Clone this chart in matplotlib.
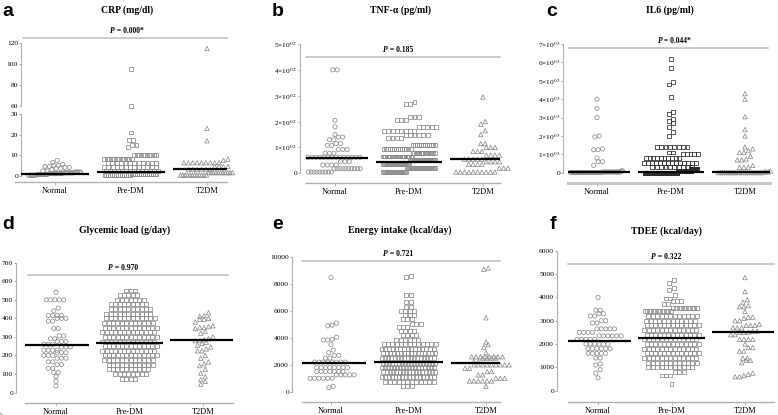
import numpy as np
import matplotlib.pyplot as plt
from matplotlib.lines import Line2D

plt.rcParams['mathtext.fontset'] = 'stix'
plt.rcParams['font.family'] = ['Liberation Serif', 'DejaVu Serif']

groups = ['Normal', 'Pre-DM', 'T2DM']

# each group is given as value levels (rows of markers) and how many markers sit on each row
# a  CRP (mg/dl)
crp_lv = [[0.2, 0.6, 1.0, 1.4, 1.8, 2.3, 3.0, 3.5, 4.0, 4.5, 5.0, 5.5, 6.5, 7.5],
          [0.2, 1.0, 2.3, 4.3, 6.3, 8.3, 10.0, 14, 15, 17.5, 21, 60, 95],
          [0.3, 1.5, 3.0, 4.5, 6.3, 7.5, 8.0, 17, 23, 115]]
crp_n = [[6, 8, 10, 8, 5, 2, 1, 2, 2, 2, 2, 1, 1, 1],
         [14, 14, 14, 13, 12, 12, 10, 1, 2, 2, 1, 1, 1],
         [12, 11, 6, 4, 9, 1, 1, 1, 1, 1]]
crp_med = [1.0, 1.6, 3.5]

# b  TNF-alpha (pg/ml)
tnf_lv = [[5, 18, 32, 45, 62, 78, 92, 108, 115, 130, 140, 150, 180, 205, 400],
          [5, 20, 35, 50, 65, 80, 95, 110, 135, 150, 165, 178, 205, 218, 268, 275],
          [5, 20, 35, 45, 55, 70, 85, 100, 115, 150, 165, 190, 200, 295]]
tnf_n = [[9, 10, 4, 3, 14, 3, 3, 2, 2, 2, 2, 1, 1, 1, 2],
         [24, 28, 28, 28, 24, 18, 14, 12, 4, 6, 8, 5, 3, 3, 2, 1],
         [10, 3, 4, 4, 5, 4, 3, 3, 2, 1, 1, 1, 1, 1]]
tnf_med = [60, 45, 55]

# c  IL6 (pg/ml)
il6_lv = [[10, 40, 100, 400, 600, 800, 1250, 1300, 1950, 2000, 3000, 3500, 4000],
          [10, 80, 180, 300, 550, 800, 1000, 1100, 1400, 2000, 2200, 2500, 2700,
           2800, 2900, 3200, 3300, 4100, 4800, 4950, 5700, 6200],
          [10, 50, 100, 300, 400, 700, 750, 900, 1100, 1200, 1300, 1400, 2000, 2350, 3050, 4000, 4300]]
il6_n = [[25, 15, 2, 1, 2, 1, 2, 1, 1, 1, 1, 1, 1],
         [110, 45, 20, 10, 14, 10, 5, 2, 8, 1, 1, 1, 1, 1, 1, 1, 1, 1, 1, 1, 1, 1],
         [22, 3, 1, 3, 1, 2, 1, 1, 2, 1, 1, 1, 1, 1, 1, 1, 1]]
il6_med = [40, 50, 60]

# d  Glycemic load (g/day)
gl_lv = [[35, 60, 85, 108, 130, 150, 165, 185, 200, 215, 228, 245, 260, 275, 290, 305, 345, 385, 400, 415,
          440, 455, 500, 540],
         [75, 100, 125, 150, 175, 200, 225, 250, 275, 300, 325, 350, 375, 400, 425, 450, 475, 500, 525, 550],
         [45, 60, 70, 85, 105, 125, 145, 155, 165, 185, 200, 225, 235, 245, 255, 265, 270, 280, 285, 290,
          300, 320, 330, 345, 350, 355, 360, 380, 395, 400, 410, 415, 430]]
gl_n = [[1, 1, 1, 2, 2, 2, 2, 3, 3, 3, 4, 3, 3, 3, 2, 2, 2, 2, 3, 4, 1, 1, 5, 1],
        [4, 8, 10, 11, 12, 13, 13, 13, 13, 13, 13, 13, 12, 12, 11, 10, 9, 7, 5, 3],
        [1, 1, 1, 1, 1, 1, 1, 1, 1, 1, 1, 2, 1, 1, 1, 1, 1, 2, 1, 1, 1, 1, 1, 1, 2, 1, 1, 1, 2, 1, 1, 1, 1]]
gl_med = [255, 265, 283]

# e  Energy intake (kcal/day)
ei_lv = [[300, 400, 1000, 1250, 1500, 1800, 2200, 2500, 2700, 2900, 3100, 3500, 3850, 3900, 4050,
          4900, 4950, 5100, 8500],
         [450, 750, 1100, 1450, 1800, 2150, 2500, 2850, 3200, 3550, 3850, 4200, 4500, 4800, 5050,
          5400, 5700, 6000, 6300, 6700, 7200, 8500, 8600],
         [400, 800, 1000, 1250, 1500, 1750, 2000, 2250, 2500, 2600, 2900, 3300, 3500, 3700, 5500, 9100, 9200]]
ei_n = [[1, 1, 6, 5, 7, 8, 8, 2, 2, 1, 1, 1, 2, 1, 1, 1, 1, 1, 1],
        [3, 12, 16, 17, 18, 18, 17, 16, 15, 13, 6, 4, 4, 3, 3, 3, 3, 4, 2, 2, 2, 1, 1],
        [1, 6, 3, 2, 2, 2, 9, 2, 4, 8, 1, 1, 1, 1, 1, 1, 1]]
ei_med = [2150, 2200, 2150]

# f  TDEE (kcal/day)
td_lv = [[550, 750, 900, 1100, 1150, 1400, 1600, 1800, 2000, 2200, 2350, 2500, 2650, 2900, 3000, 3200,
          3300, 3450, 4000],
         [300, 650, 800, 1000, 1200, 1400, 1600, 1800, 2000, 2200, 2400, 2600, 2800, 3000, 3200, 3400,
          3550, 3700, 3850, 3950, 4100, 4300, 4400, 4600, 4750],
         [600, 650, 700, 750, 1200, 1300, 1400, 1700, 1850, 2000, 2200, 2400, 2500, 2550, 2700, 2800,
          2850, 3000, 3100, 3150, 3400, 3600, 3650, 3800, 3900, 4250, 4850]]
td_n = [[1, 1, 1, 1, 1, 2, 5, 6, 6, 5, 6, 4, 5, 2, 2, 2, 2, 2, 1],
        [1, 3, 3, 11, 12, 13, 13, 13, 13, 13, 13, 13, 13, 12, 12, 11, 10, 2, 3, 2, 1, 1, 1, 1, 1],
        [2, 1, 1, 1, 1, 2, 2, 2, 2, 1, 4, 2, 3, 2, 3, 3, 1, 2, 1, 2, 1, 2, 1, 1, 1, 1, 1]]
td_med = [2130, 2280, 2530]

W, H = 778, 415
fig = plt.figure(figsize=(W / 100, H / 100), dpi=100)
fig.patch.set_facecolor('white')

AXC = '#b0b0b0'
GRAY = '#8c8c8c'
MK = ['o', 's', '^']
MS = [9, 8, 10]


def fx(px):
    return px / W


def fy(py):
    return 1 - py / H


def new_ax(l, r, t, b):
    ax = fig.add_axes([fx(l), fy(b), (r - l) / W, (b - t) / H])
    ax.patch.set_alpha(0)
    ax.spines['top'].set_visible(False)
    ax.spines['right'].set_visible(False)
    return ax


def setup(ax, l, r, t, b, cx, v0, p0, v1, p1, spine_x, ticks, labels, xline=(AXC, 1.0)):
    ppu = (p0 - p1) / (v1 - v0)
    ax.set_ylim(v0 - (b - p0) / ppu, v1 + (p1 - t) / ppu)
    xpu = (cx[2] - cx[0]) / 2
    ax.set_xlim((l - cx[0]) / xpu, (r - cx[0]) / xpu)
    sp = ax.spines['left']
    sp.set_position(('axes', (spine_x - l) / (r - l)))
    sp.set_bounds(v0, v1)
    sp.set_color(AXC)
    sp.set_linewidth(0.8)
    ax.spines['bottom'].set_color(xline[0])
    ax.spines['bottom'].set_linewidth(xline[1])
    ax.set_yticks(ticks)
    ax.set_yticklabels(labels)
    ax.tick_params(axis='y', length=1.5, width=0.6, color='#999999', labelsize=5.4, pad=0.6)
    ax.set_xticks([0, 1, 2])
    ax.set_xticklabels(groups)
    ax.tick_params(axis='x', length=2, width=0.6, color=AXC, labelsize=6, pad=1.5)
    return ppu, xpu


def swarm(ax, x0, vals, ppu, xpu, color, mk, ms, lo=-np.inf, hi=np.inf):
    v = np.sort(np.asarray(vals, float))
    y = v * ppu
    off = np.zeros(len(v))
    i, row = 0, 0
    while i < len(v):
        j = i
        while j < len(v) and y[j] - y[i] < 4.0:
            j += 1
        n = j - i
        step = 4.4 if n < 2 else min(4.4, 52 / (n - 1))
        shift = 0.25 * step * (1 if row % 2 else -1) if n > 2 else 0
        off[i:j] = (np.arange(n) - (n - 1) / 2) * step + shift
        i = j
        row += 1
    keep = (v >= lo) & (v <= hi)
    ax.scatter(x0 + off[keep] / xpu, v[keep], marker=mk, s=ms, facecolors='none',
               edgecolors=color, linewidths=0.55, clip_on=False, zorder=3)


def medians(ax, meds):
    for k, m in enumerate(meds):
        ax.hlines(m, k - 0.45, k + 0.45, color='black', lw=1.6, zorder=5)


def pline(x1, x2, y, ptxt, cxt):
    fig.add_artist(Line2D([fx(x1), fx(x2)], [fy(y), fy(y)], color='#bdbdbd', lw=1.1))
    fig.text(fx(cxt - 17), fy(y - 3), 'P', style='italic', weight='bold', fontsize=5.5, ha='left', va='bottom')
    fig.text(fx(cxt - 12.5), fy(y - 3), ' = ' + ptxt, weight='bold', fontsize=5.5, ha='left', va='bottom')


def heads(letter, lx, ly, title, tx, ty):
    fig.text(fx(lx), fy(ly), letter, family='Liberation Sans', weight='bold', fontsize=14, va='baseline')
    fig.text(fx(tx), fy(ty), title, weight='bold', fontsize=7, ha='center', va='center')


def sci(ticks, e):
    return ['0'] + ['%d×10$^{%s}$' % (t // (10 ** int(e)), e) for t in ticks[1:]]


def simple_panel(l, r, t, b, cx, p0, p1, top, spine_x, ticks, labels, lv, nn, meds, colors, xline=(AXC, 1.0)):
    ax = new_ax(l, r, t, b)
    ppu, xpu = setup(ax, l, r, t, b, cx, 0, p0, top, p1, spine_x, ticks, labels, xline)
    for k in range(3):
        swarm(ax, k, np.repeat(lv[k], nn[k]), ppu, xpu, colors[k], MK[k], MS[k])
    medians(ax, meds)
    return ax


# ---- a: CRP with broken axis ----
cx_a = [55, 132, 207]
ax_lo = new_ax(15, 227, 110, 182)
ppu_lo, xpu_a = setup(ax_lo, 15, 227, 110, 182, cx_a, 0, 175.7, 30, 114, 21,
                      [0, 10, 20, 30], ['0', '10', '20', '30'])
ax_hi = new_ax(15, 227, 37, 108)
ppu_hi, _ = setup(ax_hi, 15, 227, 37, 108, cx_a, 60, 106, 120, 43.3, 21,
                  [60, 80, 100, 120], ['60', '80', '100', '120'])
ax_hi.spines['bottom'].set_visible(False)
ax_hi.tick_params(axis='x', length=0, labelbottom=False)
for k in range(3):
    vals = np.repeat(crp_lv[k], crp_n[k])
    swarm(ax_lo, k, vals, ppu_lo, xpu_a, GRAY, MK[k], MS[k], hi=30)
    swarm(ax_hi, k, vals, ppu_hi, xpu_a, GRAY, MK[k], MS[k], lo=30)
medians(ax_lo, crp_med)
heads('a', 2, 15.5, 'CRP (mg/dl)', 127, 10)
pline(23, 227, 37.7, '0.000*', 127)

# ---- b: TNF-alpha ----
tk = [0, 100, 200, 300, 400, 500]
simple_panel(306, 500, 44, 183, [335, 410, 483], 173.3, 43.3, 500, 300, tk, sci(tk, '02'),
             tnf_lv, tnf_n, tnf_med, [GRAY] * 3)
heads('b', 272, 15.5, 'TNF-α (pg/ml)', 400, 10)
pline(306, 500, 57.3, '0.185', 400)

# ---- c: IL6 ----
tk = [0, 1000, 2000, 3000, 4000, 5000, 6000, 7000]
simple_panel(568, 770, 44, 183.5, [597, 671, 745], 172.7, 43.3, 7000, 563, tk, sci(tk, '03'),
             il6_lv, il6_n, il6_med, [GRAY, '#2b2b2b', GRAY], xline=('#c8c8c8', 2.2))
heads('c', 546, 15.5, 'IL6 (pg/ml)', 670, 10)
pline(569, 768, 48.3, '0.044*', 675)

# ---- d: Glycemic load ----
tk = list(range(0, 701, 100))
simple_panel(25, 233, 262, 403, [56, 130, 203], 392.5, 262.7, 700, 16, tk, [str(t) for t in tk],
             gl_lv, gl_n, gl_med, [GRAY] * 3)
heads('d', 2, 229, 'Glycemic load (g/day)', 125, 230)
pline(28, 228, 275, '0.970', 125)

# ---- e: Energy intake ----
tk = list(range(0, 10001, 2000))
simple_panel(302, 500, 256, 402, [331, 409, 486], 391.7, 257.3, 10000, 292, tk, [str(t) for t in tk],
             ei_lv, ei_n, ei_med, [GRAY] * 3)
heads('e', 272, 229, 'Energy intake (kcal/day)', 400, 230)
pline(302, 500, 260.7, '0.721', 400)

# ---- f: TDEE ----
tk = list(range(0, 6001, 1000))
simple_panel(568, 774, 250, 402, [598, 671, 745], 390.7, 250.7, 6000, 557, tk, [str(t) for t in tk],
             td_lv, td_n, td_med, [GRAY] * 3)
heads('f', 550, 229, 'TDEE (kcal/day)', 666, 231)
pline(568, 774, 264.3, '0.322', 668)

fig.savefig('out.png', dpi=100, facecolor='white')
